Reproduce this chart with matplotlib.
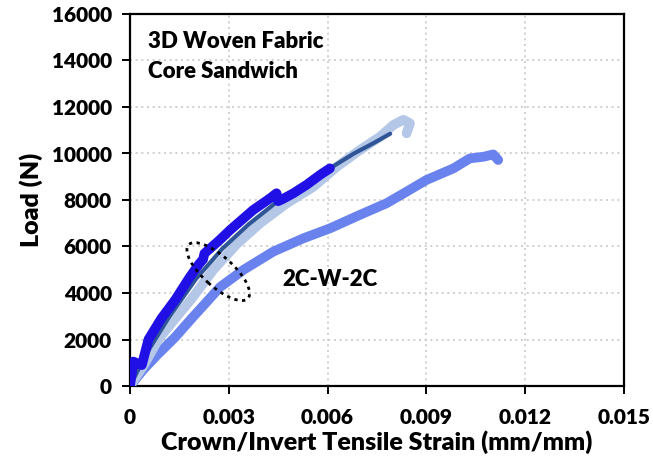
import matplotlib
matplotlib.use("Agg")
import matplotlib.pyplot as plt
from matplotlib.patches import Ellipse
import matplotlib.transforms as mtransforms

plt.rcParams['font.family'] = ['Lato', 'DejaVu Sans']
plt.rcParams['font.weight'] = 'heavy'

# Series data (strain mm/mm, load N)
medium_strain = [0, 0.0004, 0.0008, 0.00137, 0.0019, 0.00235, 0.00273, 0.00344, 0.00435, 0.00526,
                 0.00607, 0.00698, 0.00779, 0.0084, 0.009, 0.00982, 0.01032, 0.01073, 0.01103, 0.01118]
medium_load = [0, 700, 1300, 2100, 2950, 3650, 4250, 4990, 5780, 6350,
               6780, 7360, 7860, 8360, 8860, 9360, 9790, 9860, 9960, 9720]

light_strain = [0, 0.0004, 0.00086, 0.0014, 0.00187, 0.00253, 0.00324, 0.00395, 0.00476, 0.00557,
                0.00628, 0.00698, 0.00759, 0.008, 0.0083, 0.0085, 0.0084]
light_load = [0, 850, 2000, 2950, 3750, 5000, 6100, 7000, 7860, 8570,
              9430, 10150, 10720, 11230, 11450, 11300, 10870]

steel_strain = [0, 0.0005, 0.0012, 0.0020, 0.0028, 0.0036, 0.0044, 0.0052, 0.0060,
                0.0068, 0.0074, 0.0079]
steel_load = [0, 1400, 3000, 4600, 5900, 6950, 7850, 8600, 9300,
              10000, 10450, 10850]

dark_strain = [0, 0.0001, 0.00036, 0.00056, 0.00095, 0.00137, 0.0018, 0.0021, 0.00222,
               0.00226, 0.0027, 0.00304, 0.00374, 0.00425, 0.00445, 0.0045, 0.00465,
               0.00496, 0.00536, 0.00577, 0.00607]
dark_load = [0, 1050, 900, 2000, 2900, 3700, 4650, 5250, 5450,
             5700, 6250, 6710, 7570, 8070, 8290, 7950, 8050,
             8290, 8650, 9080, 9360]

x_ticks = [0, 0.003, 0.006, 0.009, 0.012, 0.015]
x_ticklabels = ['0', '0.003', '0.006', '0.009', '0.012', '0.015']
y_ticks = [0, 2000, 4000, 6000, 8000, 10000, 12000, 14000, 16000]

fig = plt.figure(figsize=(6.53, 4.61), dpi=100)
ax = fig.add_axes([130/653, 75/461, 494/653, 372/461])

style = dict(solid_capstyle='round', solid_joinstyle='round')
ax.plot(medium_strain, medium_load, color='#6A82EE', lw=7, zorder=3, **style)
ax.plot(light_strain, light_load, color='#B4C7E7', lw=7, zorder=4, **style)
ax.plot(steel_strain, steel_load, color='#2F5597', lw=3, zorder=5, **style)
ax.plot(dark_strain, dark_load, color='#2010E6', lw=7, zorder=6, **style)

ax.set_xlim(0, 0.015)
ax.set_ylim(0, 16000)
ax.set_xticks(x_ticks)
ax.set_xticklabels(x_ticklabels)
ax.set_yticks(y_ticks)
ax.grid(True, color='#C8C8C8', linestyle=(0, (1.2, 2.2)), linewidth=1.2)
ax.set_axisbelow(True)
for s in ax.spines.values():
    s.set_linewidth(1.6)
    s.set_color('black')
ax.tick_params(axis='both', direction='out', length=6, width=1.4, labelsize=15, pad=5)
ax.tick_params(axis='x', pad=10)
ax.tick_params(axis='y', pad=7)

ax.set_xlabel('Crown/Invert Tensile Strain (mm/mm)', fontsize=18, fontweight='heavy', labelpad=2)
ax.set_ylabel('Load (N)', fontsize=18, fontweight='heavy', labelpad=6)

fig.text(148/653, 1 - 41/461, '3D Woven Fabric', fontsize=16, fontweight='heavy', va='center', ha='left')
fig.text(148/653, 1 - 71/461, 'Core Sandwich', fontsize=16, fontweight='heavy', va='center', ha='left')
ax.text(0.00462, 4560, '2C-W-2C', fontsize=16, fontweight='heavy', va='center', ha='left')

# dotted ellipse annotation
trans = fig.dpi_scale_trans + mtransforms.ScaledTranslation(0.00268, 4920, ax.transData)
ell = Ellipse((0, 0), width=0.80, height=0.30, angle=-42, transform=trans,
              fill=False, edgecolor='black', linestyle=(0, (1.2, 1.6)), linewidth=2.0, zorder=7)
ax.add_artist(ell)

fig.savefig('out.png', dpi=100)
